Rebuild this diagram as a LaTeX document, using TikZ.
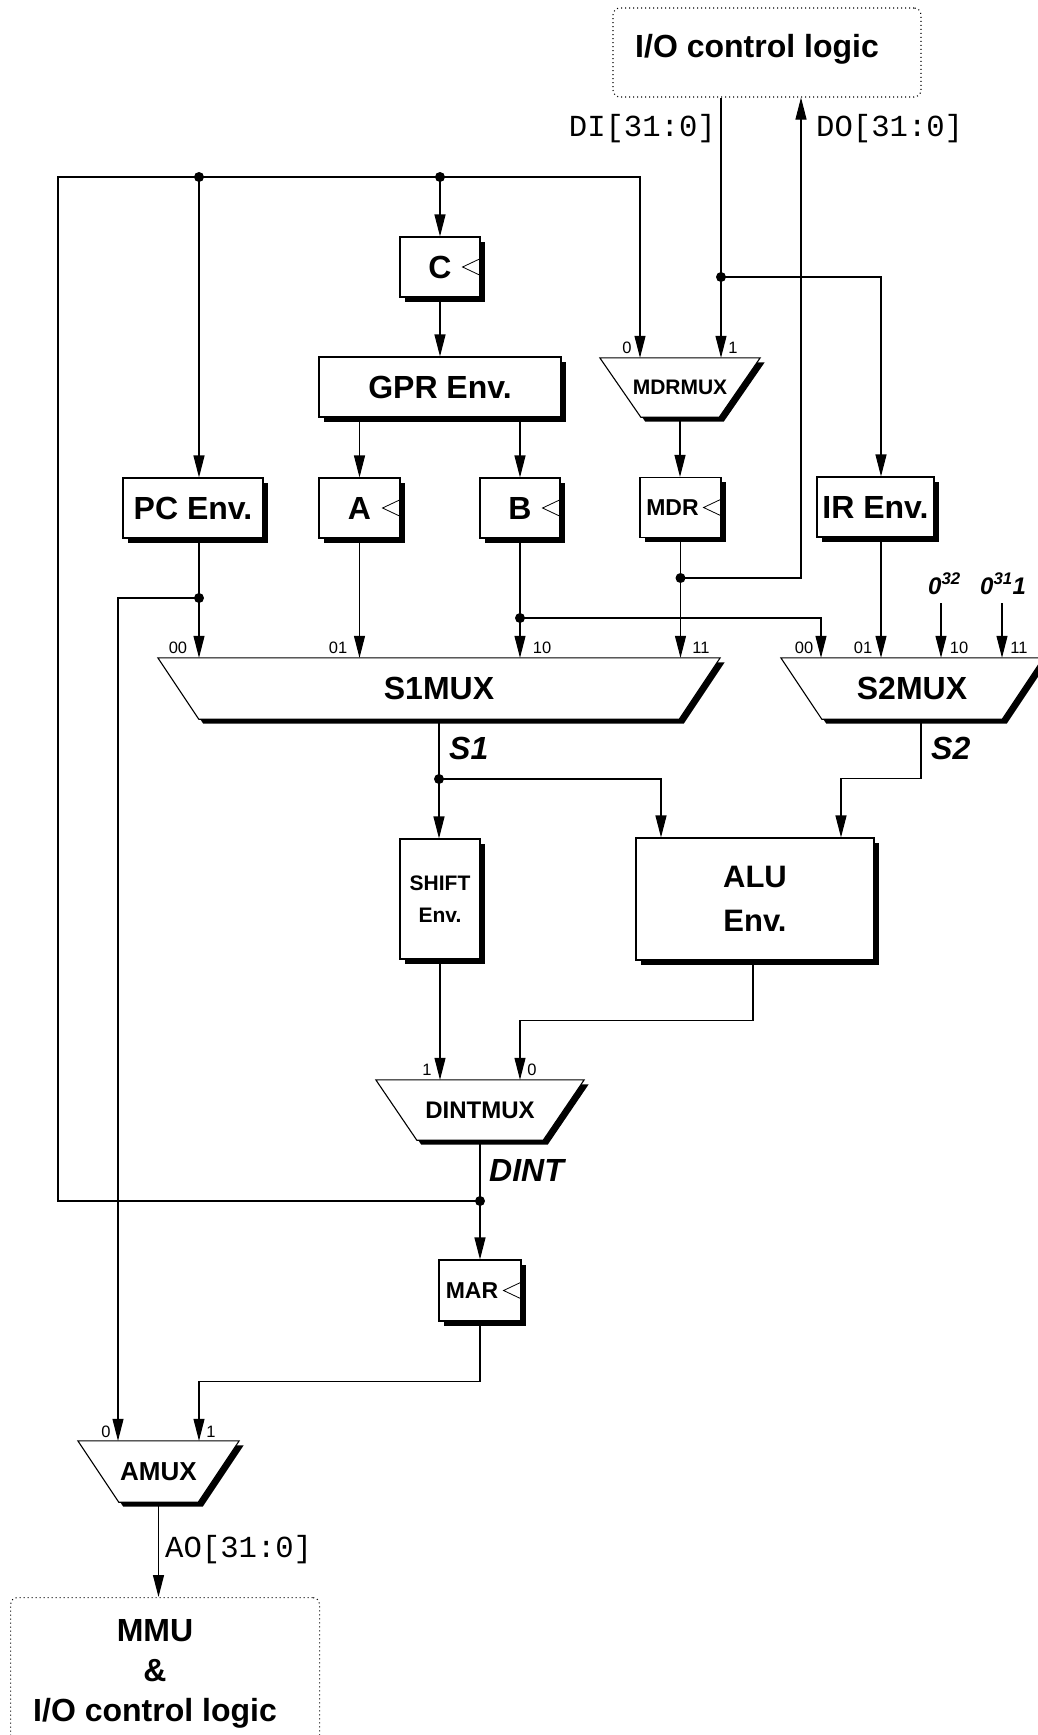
\documentclass[tikz,border=0pt]{standalone}
\usepackage{fontspec}
\setmainfont{Liberation Sans}
\newfontfamily\busfont{Liberation Mono}
\usetikzlibrary{arrows.meta,shadows}
\pgfdeclarelayer{bg}
\pgfsetlayers{bg,main}
\begin{document}
\begin{tikzpicture}[x=1pt,y=-1pt,
  ln/.style={line width=1.1pt},
  arr/.style={ln,-{Triangle[length=22pt,width=11pt]}},
  shad/.style={drop shadow={shadow xshift=4.5pt,shadow yshift=-4.5pt,opacity=1,fill=black}},
  blk/.style={draw,ln,fill=white,shad,inner sep=0pt,align=center,font=\fontsize{32}{38}\selectfont\bfseries},
  muxnode/.style={rectangle,inner sep=0pt,minimum height=61pt,align=center,font=\fontsize{32}{38}\selectfont\bfseries},
  port/.style={inner sep=0pt,font=\fontsize{16.5}{19}\selectfont},
  sig/.style={inner sep=0pt,font=\fontsize{32}{38}\selectfont\bfseries\itshape},
  cst/.style={inner sep=0pt,font=\fontsize{24}{28}\selectfont\bfseries\itshape},
  busl/.style={inner sep=0pt,font=\fontsize{30.6}{36}\selectfont\busfont},
  iobox/.style={draw,line width=1.1pt,dash pattern=on 1pt off 3pt,rounded corners=7pt,inner sep=0pt},
  clk/.style={line width=0.8pt}
]
\useasboundingbox (0,0) rectangle (1037,1735);

% ---------- outer blocks
\node[iobox,minimum width=308pt,minimum height=89pt] (iotop) at (767,52.5) {};
\node[inner sep=0pt,font=\fontsize{32}{38}\selectfont\bfseries,anchor=base] (iotoptxt) at (757,57) {I/O control logic};
\node[iobox,minimum width=309pt,minimum height=220pt,anchor=north west] (mmu) at (10,1597) {};
\node[inner sep=0pt,align=center,anchor=north,font=\fontsize{32}{40}\selectfont\bfseries] (mmutxt) at (155,1619) {MMU\\\&\\I/O control logic};

% ---------- boxes
\node[blk,minimum width=80pt,minimum height=60pt] (c) at (440,267) {C};
\node[blk,minimum width=242pt,minimum height=60pt] (gpr) at (440,387) {GPR Env.};
\node[blk,minimum width=140pt,minimum height=60pt] (pc) at (193,508) {PC Env.};
\node[blk,minimum width=81pt,minimum height=60pt] (a) at (359.5,508) {A};
\node[blk,minimum width=80pt,minimum height=60pt] (b) at (520,508) {B};
\node[blk,minimum width=81pt,minimum height=60pt,font=\fontsize{23}{28}\selectfont\bfseries] (mdr) at (680.5,507.5) {MDR\kern16pt};
\node[blk,minimum width=117pt,minimum height=60pt] (ir) at (875.5,507) {IR Env.};
\node[blk,minimum width=80pt,minimum height=120pt,font=\fontsize{21}{32}\selectfont\bfseries] (shift) at (440,899) {SHIFT\\Env.};
\node[blk,minimum width=238pt,minimum height=122pt,font=\fontsize{31}{44}\selectfont\bfseries] (alu) at (755,899) {ALU\\Env.};
\node[blk,minimum width=82pt,minimum height=61pt,font=\fontsize{23}{28}\selectfont\bfseries] (mar) at (480,1290.5) {MAR\kern16pt};

% ---------- multiplexers (outline drawn below on the bg layer)
\node[muxnode,minimum width=160pt,minimum height=59pt,font=\fontsize{21}{26}\selectfont\bfseries] (mdrmux) at (680,387.5) {MDRMUX};
\node[muxnode,minimum width=562pt] (s1mux) at (439,688.5) {S1MUX};
\node[muxnode,minimum width=262pt] (s2mux) at (912,688.5) {S2MUX};
\node[muxnode,minimum width=208pt,minimum height=60pt,font=\fontsize{24}{28}\selectfont\bfseries] (dintmux) at (480,1110) {DINTMUX};
\node[muxnode,minimum width=161pt,font=\fontsize{26}{30}\selectfont\bfseries] (amux) at (158.5,1471.5) {AMUX};

\begin{pgfonlayer}{bg}
\fill[white] (0,0) rectangle (1037,1735);
\foreach \m in {mdrmux,s1mux,s2mux,dintmux,amux}{
  \fill[black,transform canvas={shift={(4.5pt,-4.5pt)}}] (\m.north west) -- (\m.north east) -- ([xshift=-41pt]\m.south east) -- ([xshift=41pt]\m.south west) -- cycle;
  \draw[ln,fill=white] (\m.north west) -- (\m.north east) -- ([xshift=-41pt]\m.south east) -- ([xshift=41pt]\m.south west) -- cycle;
}
\end{pgfonlayer}

% ---------- clock inputs
\foreach \n in {c,a,b,mdr,mar}
  \draw[clk] ([yshift=8.5pt]\n.east) -- ([xshift=-18pt]\n.east) -- ([yshift=-8.5pt]\n.east);

% ---------- junctions
\coordinate (busNW) at (58,177);
\coordinate (d1) at (199,177);
\coordinate (d2) at (440,177);
\coordinate (d3) at (721,277);
\coordinate (d4) at (199,598);
\coordinate (d5) at (520,618);
\coordinate (d6) at (680.5,578);
\coordinate (d7) at (439,779);
\coordinate (d8) at (480,1201);

% ---------- constants
\node[cst,anchor=base west] (z32) at (928,594) {0\textsuperscript{32}};
\node[cst,anchor=base west] (z31) at (980,594) {0\textsuperscript{31}1};
\coordinate (z32a) at ([shift={(13pt,-9pt)}]z32.base west);
\coordinate (z31a) at ([shift={(22pt,-9pt)}]z31.base west);

% ---------- connectors
\draw[arr] (d8) -| (busNW) -| ([xshift=-40pt]mdrmux.north);
\draw[arr] (d1) -- (d1 |- pc.north);
\draw[arr] (d2) -- (c.north);
\draw[arr] (c.south) -- (gpr.north);
\draw[arr] (a.north |- gpr.south) -- (a.north);
\draw[arr] (b.north |- gpr.south) -- (b.north);
\draw[arr] ([xshift=-46pt]iotop.south) -- ([xshift=41pt]mdrmux.north);
\draw[arr] (d3) -| ([xshift=5.5pt]ir.north);
\draw[arr] (mdrmux.south) -- (mdrmux.south |- mdr.north);
\draw[arr] (d1 |- pc.south) -- (d1 |- s1mux.north);
\draw[arr] (d4) -| ([xshift=-40.5pt]amux.north);
\draw[arr] (a.south) -- (a.south |- s1mux.north);
\draw[arr] (b.south) -- (b.south |- s1mux.north);
\draw[arr] (d5) -| ([xshift=-91pt]s2mux.north);
\draw[arr] (mdr.south) -- (mdr.south |- s1mux.north);
\draw[arr] (d6) -| ([xshift=34pt]iotop.south);
\draw[arr] ([xshift=5.5pt]ir.south) -- ([xshift=5.5pt]ir.south |- s2mux.north);
\draw[arr] (z32a) -- (z32a |- s2mux.north);
\draw[arr] (z31a) -- (z31a |- s2mux.north);
\draw[arr] (s1mux.south) -- (s1mux.south |- shift.north);
\draw[arr] (d7) -| ([xshift=-94pt]alu.north);
\draw[arr] ([xshift=9pt]s2mux.south) -- ++(0,59) -| ([xshift=86pt]alu.north);
\draw[arr] (shift.south) -- (shift.south |- dintmux.north);
\draw[arr] ([xshift=-2pt]alu.south) -- ++(0,60) -| ([xshift=40pt]dintmux.north);
\draw[arr] (dintmux.south) -- (mar.north);
\draw[arr] (mar.south) -- ++(0,60) -| ([xshift=40.5pt]amux.north);
\draw[arr] (amux.south) -- (amux.south |- mmu.north);

\foreach \p in {d1,d2,d3,d4,d5,d6,d7,d8}
  \fill (\p) circle (5pt);

% ---------- port labels
\node[port] (pm0) at (627,348) {0};
\node[port] (pm1) at (733,348) {1};
\node[port] (p100) at (178,648) {00};
\node[port] (p101) at (338,648) {01};
\node[port] (p110) at (542,648) {10};
\node[port] (p111) at (701,648) {11};
\node[port] (p200) at (804,648) {00};
\node[port] (p201) at (863,648) {01};
\node[port] (p210) at (959,648) {10};
\node[port] (p211) at (1019,648) {11};
\node[port] (pd1) at (427,1070) {1};
\node[port] (pd0) at (532,1070) {0};
\node[port] (pa0) at (106,1432) {0};
\node[port] (pa1) at (211,1432) {1};

% ---------- signal labels
\node[sig,anchor=west] (s1lbl) at (449,748) {S1};
\node[sig,anchor=west] (s2lbl) at (931,748) {S2};
\node[sig,anchor=west] (dintlbl) at (489,1170) {DINT};
\node[busl,anchor=east] (dilbl) at (716,129) {DI[31:0]};
\node[busl,anchor=west] (dolbl) at (816,129) {DO[31:0]};
\node[busl,anchor=west] (aolbl) at (165,1550) {AO[31:0]};
\end{tikzpicture}
\end{document}
